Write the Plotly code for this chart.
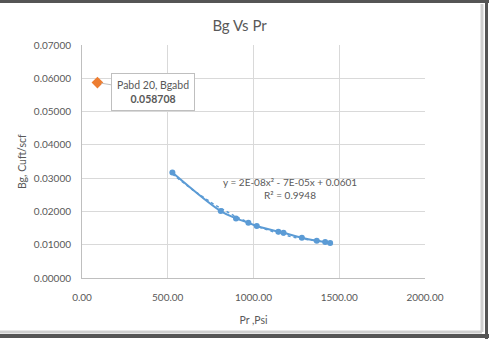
import numpy as np
import plotly.graph_objects as go

# Data
pr = [527, 809, 898, 970, 1019, 1145, 1175, 1282, 1369, 1418, 1447]
bg = [0.0317, 0.0201, 0.0179, 0.0166, 0.0156, 0.0139, 0.0136, 0.0121, 0.0112, 0.0108, 0.0105]
p_abd = [90]
bg_abd = [0.058708]
x_ticks = [0, 500, 1000, 1500, 2000]
y_ticks = [0.0, 0.01, 0.02, 0.03, 0.04, 0.05, 0.06, 0.07]

FONT = "Lato"
GREY = "#595959"

coef = np.polyfit(pr, bg, 2)
xt = np.linspace(min(pr), max(pr), 60)
yt = np.polyval(coef, xt)

fig = go.Figure()
fig.add_trace(go.Scatter(x=xt, y=yt, mode="lines",
                         line=dict(color="#5B9BD5", width=1.5, dash="dot"),
                         hoverinfo="skip"))
fig.add_trace(go.Scatter(x=pr, y=bg, mode="lines+markers",
                         line=dict(color="#5B9BD5", width=2, shape="spline"),
                         marker=dict(color="#5B9BD5", size=6)))
fig.add_trace(go.Scatter(x=p_abd, y=bg_abd, mode="markers",
                         marker=dict(color="#ED7D31", size=9, symbol="diamond")))

fig.add_annotation(x=p_abd[0], y=bg_abd[0], xref="x", yref="y",
                   text="Pabd 20, Bgabd<br><b>0.058708</b>",
                   showarrow=True, arrowhead=0, arrowcolor="#bfbfbf", arrowwidth=1,
                   ax=56, ay=9, standoff=4,
                   bgcolor="white", bordercolor="#bfbfbf", borderwidth=1, borderpad=5,
                   font=dict(family=FONT, size=10.5, color=GREY))

fig.add_annotation(x=1213, y=0.0268, xref="x", yref="y",
                   text="y = 2E-08x² - 7E-05x + 0.0601<br>R² = 0.9948",
                   showarrow=False, font=dict(family=FONT, size=10, color=GREY))

# Frame around the chart (top, right, bottom dark edges with light shadow)
def pxx(px):
    return (px - 82) / 343
def pxy(py):
    return (278 - py) / 233

# y-axis title placed as rotated annotation
fig.add_annotation(x=pxx(22), y=pxy(162), xref="paper", yref="paper",
                   text="Bg, Cuft/scf", textangle=-90, showarrow=False,
                   xanchor="center", yanchor="middle",
                   font=dict(family=FONT, size=10.5, color=GREY))

fig.add_shape(type="line", xref="paper", yref="paper",
              x0=pxx(0), x1=pxx(489), y0=pxy(1.5), y1=pxy(1.5),
              line=dict(color="#555555", width=3))
fig.add_shape(type="line", xref="paper", yref="paper",
              x0=pxx(486.5), x1=pxx(486.5), y0=pxy(0), y1=pxy(339),
              line=dict(color="#555555", width=3))
fig.add_shape(type="line", xref="paper", yref="paper",
              x0=pxx(0), x1=pxx(489), y0=pxy(336), y1=pxy(336),
              line=dict(color="#555555", width=4))
fig.add_shape(type="line", xref="paper", yref="paper",
              x0=pxx(482), x1=pxx(482), y0=pxy(4), y1=pxy(332),
              line=dict(color="#cfcfcf", width=3))
fig.add_shape(type="line", xref="paper", yref="paper",
              x0=pxx(0), x1=pxx(482), y0=pxy(332), y1=pxy(332),
              line=dict(color="#cfcfcf", width=3))

fig.update_layout(
    width=489, height=342,
    margin=dict(l=82, r=64, t=45, b=64),
    paper_bgcolor="white", plot_bgcolor="white",
    showlegend=False,
    title=dict(text="Bg Vs Pr", x=0.49, xanchor="center", y=0.925, yanchor="middle",
               font=dict(family=FONT, size=15, color=GREY)),
    font=dict(family=FONT, color=GREY),
)
fig.update_xaxes(range=[0, 2000], tickvals=x_ticks,
                 ticktext=[f"{v:.2f}" for v in x_ticks],
                 showgrid=True, gridcolor="#d9d9d9", gridwidth=1,
                 showline=True, linecolor="#bfbfbf", zeroline=False,
                 ticks="", ticklabelstandoff=10,
                 tickfont=dict(family=FONT, size=10, color=GREY),
                 title=dict(text="Pr ,Psi", font=dict(family=FONT, size=10.5, color=GREY), standoff=14))
fig.update_yaxes(range=[0, 0.07], tickvals=y_ticks,
                 ticktext=[f"{v:.5f}" for v in y_ticks],
                 showgrid=True, gridcolor="#d9d9d9", gridwidth=1,
                 showline=True, linecolor="#bfbfbf", zeroline=False,
                 ticks="", ticklabelstandoff=8,
                 tickfont=dict(family=FONT, size=10, color=GREY))

fig.write_html("out.html")
